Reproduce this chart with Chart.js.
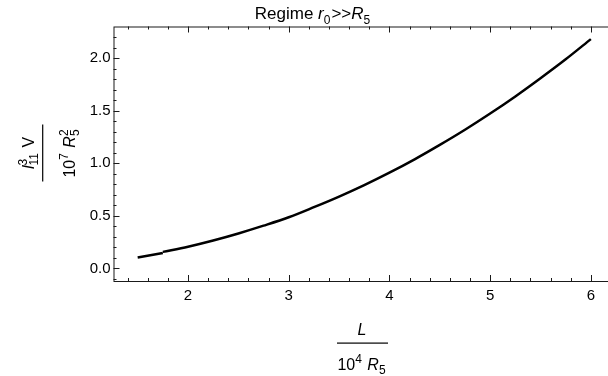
<!DOCTYPE html>
<html>
<head>
<meta charset="utf-8">
<script src="https://cdn.jsdelivr.net/npm/chart.js@4/dist/chart.umd.min.js"></script>
<style>
html, body { margin: 0; padding: 0; background: #fff; overflow: hidden; }
canvas { display: block; }
</style>
</head>
<body>
<canvas id="c" width="620" height="376"></canvas>
<script>
// values; the curve has a small step near L = 1.75
const lowX = [1.5, 1.625, 1.75];
const lowY = [0.104, 0.125, 0.147];
const highX = [1.75, 2.0, 2.25, 2.5, 2.75, 3.0, 3.25, 3.5, 3.75, 4.0, 4.25, 4.5, 4.75, 5.0, 5.25, 5.5, 5.75, 6.0];
const highY = [0.157, 0.206, 0.265, 0.332, 0.406, 0.486, 0.582, 0.683, 0.792, 0.91, 1.037, 1.174, 1.318, 1.472, 1.635, 1.808, 1.988, 2.18];
const xTicks = [2, 3, 4, 5, 6];
const yTicks = [0.0, 0.5, 1.0, 1.5, 2.0];

const FONT = '"Liberation Sans", Arial, sans-serif';

function pts(xs, ys) {
	return xs.map(function (x, i) { return {x: x, y: ys[i]}; });
}

// draw a run of text pieces: {t, it} plain text, {sup, sub} stacked scripts
function runs(ctx, parts, x, y, size, draw) {
	let cx = x;
	parts.forEach(function (p) {
		if (p.t !== undefined) {
			ctx.font = (p.it ? 'italic ' : '') + size + 'px ' + FONT;
			if (draw) ctx.fillText(p.t, cx, y);
			cx += ctx.measureText(p.t).width;
		} else {
			const s = Math.round(size * 0.72);
			ctx.font = s + 'px ' + FONT;
			let w = 0;
			if (p.sup) { w = Math.max(w, ctx.measureText(p.sup).width); if (draw) ctx.fillText(p.sup, cx, y - size * 0.42); }
			if (p.sub) { w = Math.max(w, ctx.measureText(p.sub).width); if (draw) ctx.fillText(p.sub, cx, y + size * 0.28); }
			cx += w + 1;
		}
	});
	return cx - x;
}
function centered(ctx, parts, x, y, size) {
	const w = runs(ctx, parts, 0, 0, size, false);
	runs(ctx, parts, x - w / 2, y, size, true);
}

const decor = {
	id: 'decor',
	afterDraw: function (chart) {
		const ctx = chart.ctx, a = chart.chartArea;
		const xs = chart.scales.x, ys = chart.scales.y;
		ctx.save();
		ctx.strokeStyle = '#1a1a1a';
		ctx.lineWidth = 1;
		ctx.strokeRect(a.left + 0.5, a.top + 0.5, a.right - a.left, a.bottom - a.top);
		ctx.beginPath();
		for (let i = 6; i <= 31; i++) {
			const v = i / 5, px = Math.round(xs.getPixelForValue(v)) + 0.5;
			if (px <= a.left + 1 || px >= a.right - 1) continue;
			const len = (i % 5 === 0) ? 6 : 3;
			ctx.moveTo(px, a.bottom); ctx.lineTo(px, a.bottom - len);
			ctx.moveTo(px, a.top); ctx.lineTo(px, a.top + len);
		}
		for (let i = -1; i <= 23; i++) {
			const v = i / 10, py = Math.round(ys.getPixelForValue(v)) + 0.5;
			if (py <= a.top + 1 || py >= a.bottom - 1) continue;
			const len = (i % 5 === 0) ? 6 : 3;
			ctx.moveTo(a.left, py); ctx.lineTo(a.left + len, py);
		}
		ctx.stroke();

		ctx.fillStyle = '#000';
		ctx.textBaseline = 'alphabetic';
		ctx.textAlign = 'left';
		// title
		centered(ctx, [{t: 'Regime '}, {t: 'r', it: true}, {sub: '0'}, {t: '>>'}, {t: 'R', it: true}, {sub: '5'}], 313, 19, 17);

		// x axis label
		centered(ctx, [{t: 'L', it: true}], 362, 335, 16);
		ctx.fillRect(337, 342.5, 51, 1.2);
		centered(ctx, [{t: '10'}, {sup: '4'}, {t: ' '}, {t: 'R', it: true}, {sub: '5'}], 362, 370, 16);

		// y axis label, rotated
		ctx.translate(42.7, 153);
		ctx.rotate(-Math.PI / 2);
		centered(ctx, [{t: 'l', it: true}, {sup: '3', sub: '11'}, {t: ' V'}], 0, -9, 16);
		ctx.fillRect(-28.5, -0.6, 57, 1.2);
		centered(ctx, [{t: '10'}, {sup: '7'}, {t: ' '}, {t: 'R', it: true}, {sup: '2', sub: '5'}], 0, 32, 16);
		ctx.restore();
	}
};

new Chart(document.getElementById('c'), {
	type: 'line',
	data: {
		datasets: [
			{ data: pts(lowX, lowY), borderColor: '#000', borderWidth: 2.5, pointRadius: 0, cubicInterpolationMode: 'monotone' },
			{ data: pts(highX, highY), borderColor: '#000', borderWidth: 2.5, pointRadius: 0, cubicInterpolationMode: 'monotone' }
		]
	},
	options: {
		responsive: false,
		animation: false,
		layout: { padding: { left: 0, top: 26.5, right: 9, bottom: 0 } },
		plugins: { legend: { display: false }, tooltip: { enabled: false }, title: { display: false } },
		scales: {
			x: {
				type: 'linear', min: 1.26, max: 6.2,
				grid: { display: false, drawTicks: false },
				border: { display: false },
				afterFit: function (s) { s.height = 95; },
				afterBuildTicks: function (s) { s.ticks = xTicks.map(function (v) { return {value: v}; }); },
				ticks: { color: '#000', padding: 6, font: { family: FONT, size: 15 }, callback: function (v) { return String(v); } }
			},
			y: {
				type: 'linear', min: -0.12, max: 2.3,
				grid: { display: false, drawTicks: false },
				border: { display: false },
				afterFit: function (s) { s.width = 113.5; },
				afterBuildTicks: function (s) { s.ticks = yTicks.map(function (v) { return {value: v}; }); },
				ticks: { color: '#000', padding: 3, font: { family: FONT, size: 15 }, callback: function (v) { return v.toFixed(1); } }
			}
		}
	},
	plugins: [decor]
});
</script>
</body>
</html>
